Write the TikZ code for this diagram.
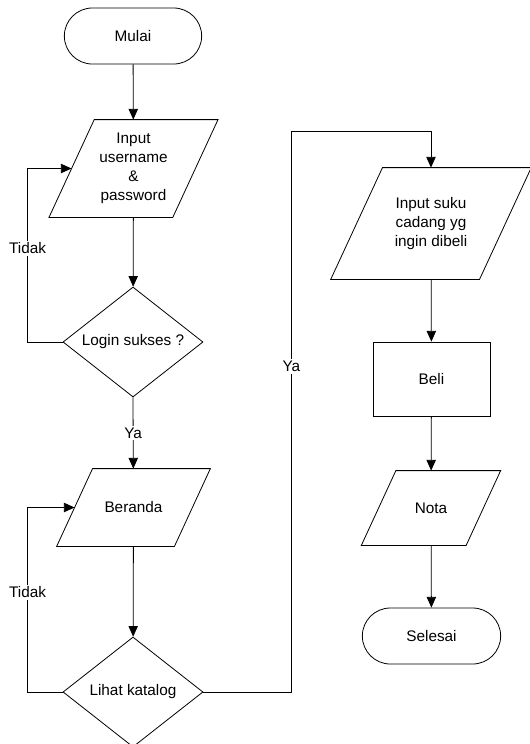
\documentclass[tikz,border=0pt]{standalone}
\usepackage{fontspec}
\setmainfont{Liberation Sans}
\usepackage{tikz}
\usetikzlibrary{shapes.geometric,shapes.misc,arrows.meta}

\begin{document}
\begin{tikzpicture}[x=0.75pt,y=0.75pt,yscale=-1,xscale=1,
  font=\fontsize{11.5}{14.25}\selectfont,
  every path/.style={line width=0.6pt},
  terminal/.style={draw, rounded rectangle, minimum width=105pt, minimum height=42pt, inner sep=1pt},
  datain/.style 2 args={rectangle, align=center, inner sep=1pt, minimum width=#1, minimum height=#2,
    append after command={\pgfextra{\draw ([xshift=0.2332*#2]\tikzlastnode.north west) -- ([xshift=0.2332*#2]\tikzlastnode.north east) -- ([xshift=-0.2332*#2]\tikzlastnode.south east) -- ([xshift=-0.2332*#2]\tikzlastnode.south west) -- cycle;}}},
  decision/.style={draw, diamond, aspect=1.27, minimum width=105pt, minimum height=82.5pt, inner sep=1pt},
  process/.style={draw, rectangle, minimum width=87.75pt, minimum height=55.5pt, inner sep=1pt},
  arrow/.style={-{Triangle[length=8pt,width=7pt]}},
  label/.style={fill=white, inner sep=1.5pt}]
\useasboundingbox (0,0) rectangle (530,744);

%Flowchart: Terminator
\node [terminal] (mulai) at (133,36) {Mulai};
%Flowchart: Data
\node [datain={92.25pt}{72.75pt}] (input) at (133.5,168.5) {Input\\username\\\&\\password};
%Flowchart: Decision
\node [decision] (login) at (133,342) {Login sukses ?};
%Flowchart: Data
\node [datain={87.75pt}{57.75pt}] (beranda) at (133.5,507.5) {Beranda};
%Flowchart: Decision
\node [decision] (katalog) at (133,692) {Lihat katalog};
%Flowchart: Data
\node [datain={111pt}{83.25pt}] (suku) at (431,223.5) {Input suku\\cadang yg\\ingin dibeli};
%Flowchart: Process
\node [process] (beli) at (431.5,379) {Beli};
%Flowchart: Data
\node [datain={78pt}{55.5pt}] (nota) at (431,508) {Nota};
%Flowchart: Terminator
\node [terminal, minimum width=105.75pt] (selesai) at (431.5,636) {Selesai};

\coordinate (atas) at (431,131);

%Connectors
\draw [arrow] (mulai) -- (input);
\draw [arrow] (input) -- (login);
\draw [arrow] (login.west) -- ++(-35,0) |- node [label, pos=0.27] (tidak1) {Tidak} (input);
\draw [arrow] (login.south) -- node [label] (ya1) {Ya} (beranda);
\draw [arrow] (beranda) -- (katalog);
\draw [arrow] (katalog.west) -- ++(-35,0) |- node [label, pos=0.27] (tidak2) {Tidak} (beranda);
\draw [arrow] (katalog.east) -- ++(88,0) |- node [label, pos=0.29] (ya2) {Ya} (atas) -- (suku);
\draw [arrow] (suku) -- (beli);
\draw [arrow] (beli) -- (nota);
\draw [arrow] (nota) -- (selesai);

\end{tikzpicture}
\end{document}
